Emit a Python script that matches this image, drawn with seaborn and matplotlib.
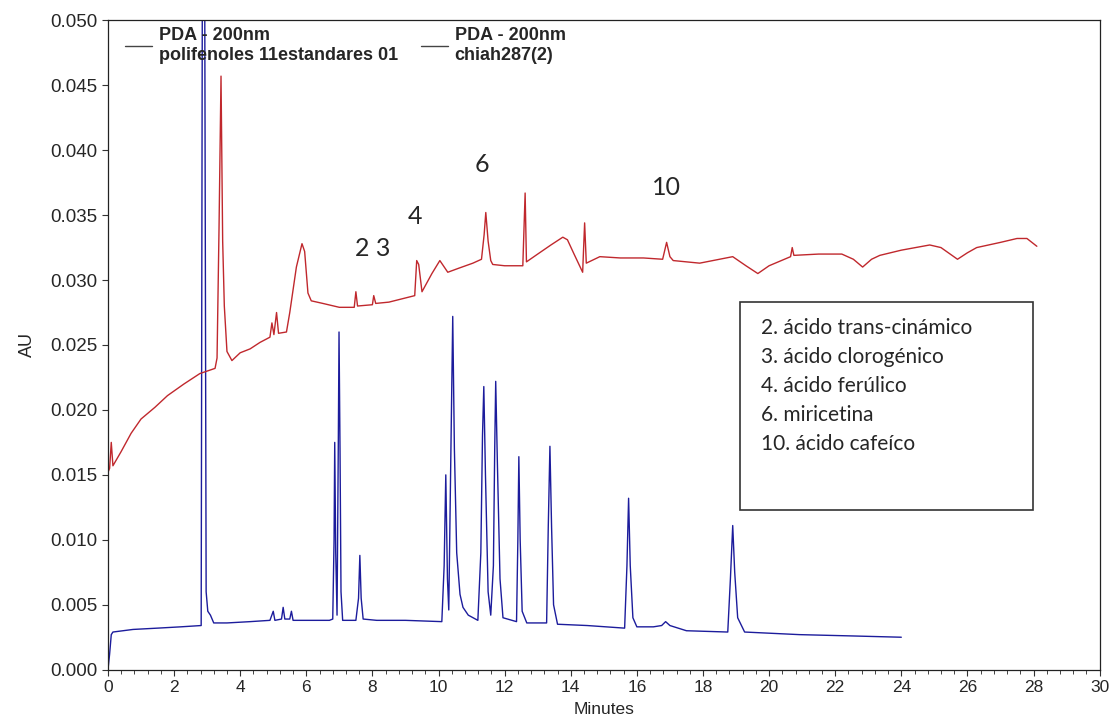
import numpy as np
import pandas as pd
import seaborn as sns
import matplotlib.pyplot as plt
from matplotlib.lines import Line2D
from matplotlib.patches import Rectangle
from matplotlib.ticker import MultipleLocator

# standards trace (polifenoles 11estandares 01), minutes / AU
std_min = [0.0, 0.05, 0.1, 0.15, 0.76, 1.5, 2.2, 2.82, 2.86, 2.92, 2.97, 3.02, 3.1, 3.2,
           3.6, 4.3, 4.9, 5.0, 5.05, 5.25, 5.3, 5.35, 5.5, 5.55, 5.6, 6.1, 6.7, 6.8,
           6.84, 6.86, 6.89, 6.93, 6.97, 6.99, 7.02, 7.05, 7.1, 7.5, 7.58, 7.62, 7.66,
           7.72, 8.13, 9.0, 10.1, 10.17, 10.22, 10.27, 10.31, 10.37, 10.43, 10.48, 10.55,
           10.65, 10.74, 10.9, 11.19, 11.28, 11.33, 11.37, 11.42, 11.5, 11.58, 11.66, 11.7,
           11.73, 11.78, 11.86, 11.95, 12.36, 12.4, 12.43, 12.47, 12.53, 12.67, 13.27,
           13.32, 13.37, 13.42, 13.48, 13.6, 14.5, 15.63, 15.7, 15.75, 15.8, 15.88, 16.0,
           16.5, 16.75, 16.87, 17.0, 17.5, 18.75, 18.83, 18.9, 18.96, 19.05, 19.26, 20.92,
           22.5, 24.0]
std_au = [0.0000, 0.0012, 0.0027, 0.0029, 0.0031, 0.0032, 0.0033, 0.0034, 0.0600, 0.0600,
          0.0060, 0.0045, 0.0042, 0.0036, 0.0036, 0.0037, 0.0038, 0.0045, 0.0038, 0.0039,
          0.0048, 0.0039, 0.0039, 0.0045, 0.0038, 0.0038, 0.0038, 0.0039, 0.0100, 0.0175,
          0.0090, 0.0042, 0.0180, 0.0260, 0.0170, 0.0060, 0.0038, 0.0038, 0.0055, 0.0088,
          0.0055, 0.0039, 0.0038, 0.0038, 0.0037, 0.0080, 0.0150, 0.0070, 0.0046, 0.0160,
          0.0272, 0.0170, 0.0090, 0.0058, 0.0048, 0.0042, 0.0038, 0.0090, 0.0180, 0.0218,
          0.0150, 0.0060, 0.0042, 0.0080, 0.0170, 0.0222, 0.0160, 0.0070, 0.0040, 0.0037,
          0.0100, 0.0164, 0.0100, 0.0045, 0.0036, 0.0036, 0.0110, 0.0172, 0.0110, 0.0050,
          0.0035, 0.0034, 0.0032, 0.0080, 0.0132, 0.0080, 0.0040, 0.0033, 0.0033, 0.0034,
          0.0037, 0.0034, 0.0030, 0.0029, 0.0070, 0.0111, 0.0075, 0.0040, 0.0029, 0.0027,
          0.0026, 0.0025]

# sample trace (chiah287(2))
smp_min = [0.0, 0.05, 0.1, 0.15, 0.4, 0.7, 1.0, 1.42, 1.8, 2.3, 2.78, 3.24, 3.3, 3.36,
           3.42, 3.47, 3.52, 3.6, 3.75, 4.0, 4.3, 4.6, 4.9, 4.96, 5.02, 5.1, 5.16, 5.4,
           5.5, 5.7, 5.87, 5.95, 6.05, 6.15, 6.5, 7.0, 7.45, 7.5, 7.55, 8.0, 8.04, 8.1,
           8.5, 9.28, 9.34, 9.4, 9.5, 9.8, 10.04, 10.28, 10.6, 11.04, 11.3, 11.38, 11.43,
           11.5, 11.58, 11.64, 12.0, 12.55, 12.62, 12.66, 13.0, 13.4, 13.76, 13.9, 14.1,
           14.36, 14.42, 14.47, 14.88, 15.5, 16.2, 16.78, 16.9, 17.0, 17.1, 17.9, 18.5,
           18.9, 19.3, 19.66, 20.0, 20.65, 20.7, 20.75, 21.5, 22.2, 22.55, 22.83, 23.1,
           23.35, 24.0, 24.86, 25.2, 25.7, 26.0, 26.28, 27.0, 27.5, 27.8, 28.1]
smp_au = [0.0152, 0.0155, 0.0175, 0.0157, 0.0168, 0.0182, 0.0193, 0.0202, 0.0211, 0.0220,
          0.0228, 0.0232, 0.0240, 0.0340, 0.0457, 0.0330, 0.0280, 0.0245, 0.0238, 0.0244,
          0.0247, 0.0252, 0.0256, 0.0267, 0.0258, 0.0275, 0.0259, 0.0260, 0.0275, 0.0310,
          0.0328, 0.0322, 0.0290, 0.0284, 0.0282, 0.0279, 0.0279, 0.0291, 0.0280, 0.0281,
          0.0288, 0.0282, 0.0283, 0.0288, 0.0315, 0.0312, 0.0291, 0.0305, 0.0315, 0.0306,
          0.0309, 0.0313, 0.0316, 0.0335, 0.0352, 0.0330, 0.0315, 0.0312, 0.0311, 0.0311,
          0.0367, 0.0314, 0.0320, 0.0327, 0.0333, 0.0331, 0.0320, 0.0306, 0.0344, 0.0313,
          0.0318, 0.0317, 0.0317, 0.0316, 0.0329, 0.0318, 0.0315, 0.0313, 0.0316, 0.0318,
          0.0311, 0.0305, 0.0311, 0.0318, 0.0325, 0.0319, 0.0320, 0.0320, 0.0316, 0.0310,
          0.0316, 0.0319, 0.0323, 0.0327, 0.0325, 0.0316, 0.0321, 0.0325, 0.0329, 0.0332,
          0.0332, 0.0326]

legend_labels = ["PDA - 200nm\npolifenoles 11estandares 01", "PDA - 200nm\nchiah287(2)"]
peak_labels = ["2 3", "4", "6", "10"]
peak_min = [8.0, 9.3, 11.3, 16.9]
peak_au = [0.0324, 0.0349, 0.0389, 0.0371]
key_lines = ["2. ácido trans-cinámico", "3. ácido clorogénico", "4. ácido ferúlico",
             "6. miricetina", "10. ácido cafeíco"]

sns.set_theme(style="ticks")
plt.rcParams['font.family'] = ['Liberation Sans', 'DejaVu Sans']

std = pd.DataFrame({"Minutes": std_min, "AU": std_au})
smp = pd.DataFrame({"Minutes": smp_min, "AU": smp_au})

fig = plt.figure(figsize=(11.13, 7.24), dpi=100)
ax = fig.add_axes([0.097, 0.075, 0.891, 0.897])

sns.lineplot(data=std, x="Minutes", y="AU", ax=ax, color="#1c1c9c", lw=1.0, estimator=None)
sns.lineplot(data=smp, x="Minutes", y="AU", ax=ax, color="#c0282d", lw=1.0, estimator=None)

ax.set_xlim(0, 30)
ax.set_ylim(0, 0.05)
ax.xaxis.set_major_locator(MultipleLocator(2))
ax.xaxis.set_minor_locator(MultipleLocator(0.4))
ax.yaxis.set_major_locator(MultipleLocator(0.005))
ax.yaxis.set_major_formatter(plt.FormatStrFormatter('%.3f'))
ax.tick_params(axis='both', length=4, width=0.8, color='#333333')
ax.tick_params(axis='y', labelsize=13.5)
ax.tick_params(axis='x', labelsize=12.5)
ax.tick_params(axis='x', which='minor', length=3, width=0.6)
ax.set_xlabel("Minutes", fontsize=12.5, labelpad=5)
ax.set_ylabel("AU", fontsize=13, labelpad=10)
for s in ax.spines.values():
    s.set_linewidth(0.9)
    s.set_color('#222222')

handles = [Line2D([], [], color='#444444', lw=1.0) for _ in legend_labels]
leg = ax.legend(handles, legend_labels, loc='upper left', ncol=2, frameon=False,
                prop={'weight': 'bold', 'size': 13}, handlelength=1.5, handletextpad=0.35,
                columnspacing=1.3, borderaxespad=0.0, bbox_to_anchor=(0.01, 1.0))

for lab, xm, ya in zip(peak_labels, peak_min, peak_au):
    ax.text(xm, ya, lab, fontsize=18, family=['Lato', 'DejaVu Sans'], ha='center', va='center')

ax.add_patch(Rectangle((0.637, 0.246), 0.296, 0.32, transform=ax.transAxes,
                       fill=False, edgecolor='#333333', lw=1.2))
for i, line in enumerate(key_lines):
    ax.text(0.659, 0.526 - i * 0.0445, line, transform=ax.transAxes, fontsize=15,
            family=['Lato', 'DejaVu Sans'], va='center', ha='left')

fig.savefig("out.png", dpi=100)
